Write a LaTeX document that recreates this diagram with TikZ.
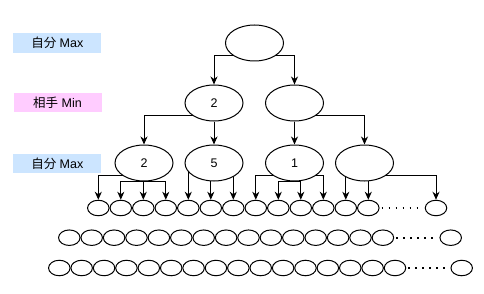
\documentclass[tikz,border=0pt]{standalone}
\usepackage{fontspec}
\setmainfont{Liberation Sans}
\newfontfamily\cjk{Noto Sans CJK JP}
\usetikzlibrary{arrows.meta,backgrounds,shapes.geometric}
\definecolor{lblblue}{HTML}{CCE5FF}
\definecolor{lblpink}{HTML}{FFCCFF}
\tikzset{
  big/.style={ellipse,draw,line width=1pt,fill=white,minimum width=58pt,minimum height=36pt,inner sep=0pt,font=\fontsize{12.5}{14}\selectfont},
  small/.style={ellipse,draw,line width=1pt,fill=white,minimum width=21.5pt,minimum height=15.5pt,inner sep=0pt},
  lbl/.style={rectangle,minimum width=88pt,minimum height=19.5pt,inner sep=0pt,font=\fontsize{12.5}{14}\selectfont},
  conn/.style={line width=1pt,-{Stealth[length=8pt,width=7pt,inset=2.5pt]}},
  dotline/.style={line width=1.8pt,dash pattern=on 1.8pt off 5.2pt}
}
\begin{document}
\begin{tikzpicture}[x=1pt,y=-1pt]
\useasboundingbox (0,0) rectangle (484,294);
% labels
\node[lbl,fill=lblblue] (lab1) at (57.3,43) {{\cjk 自分} Max};
\node[lbl,fill=lblpink] (lab2) at (57.5,102.7) {{\cjk 相手} Min};
\node[lbl,fill=lblblue] (lab3) at (57.3,163.3) {{\cjk 自分} Max};
% tree
\node[big] (root) at (254.5,43) {};
\node[big] (a) at (214,103) {2};
\node[big] (b) at (294.5,103) {};
\node[big] (n1) at (144,163) {2};
\node[big] (n2) at (214,163) {5};
\node[big] (n3) at (294.5,163) {1};
\node[big] (n4) at (364.5,163) {};
% rows of small ellipses
\foreach \k in {0,...,12} \node[small] (r1-\k) at ({98.3+22.5*\k},208) {};
\node[small] (r1-L) at (436,208) {};
\foreach \k in {0,...,14} \node[small] (r2-\k) at ({69.3+22.4*\k},237.7) {};
\node[small] (r2-L) at (450.7,237.7) {};
\foreach \k in {0,...,15} \node[small] (r3-\k) at ({59.3+22.38*\k},268) {};
\node[small] (r3-L) at (461.7,268) {};
% dotted continuations
\draw[dotline] ([xshift=2pt]r1-12.east) -- ([xshift=-3pt]r1-L.west);
\draw[dotline] ([xshift=2pt]r2-14.east) -- ([xshift=-3pt]r2-L.west);
\draw[dotline] ([xshift=2pt]r3-15.east) -- ([xshift=-3pt]r3-L.west);
% connectors
\begin{scope}[on background layer]
\draw[conn] ([yshift=-13pt]root.center) -| (a.north);
\draw[conn] ([yshift=-13pt]root.center) -| (b.north);
\draw[conn] ([yshift=-13pt]a.center) -| (n1.north);
\draw[conn] (a.south) -- (n2.north);
\draw[conn] (b.south) -- (n3.north);
\draw[conn] ([yshift=-13pt]b.center) -| (n4.north);
% n1
\draw[conn] ([yshift=-12.7pt]n1.center) -| (r1-0.north);
\draw[conn] (n1.south) -| (r1-1.north);
\draw[conn] (r1-2.north |- n1.south) -- (r1-2.north);
\draw[conn] (n1.south) -| (r1-3.north);
% n2
\draw[conn] (r1-4.north |- n2.center) -- (r1-4.north);
\draw[conn] (r1-5.north |- n2.center) -- (r1-5.north);
\draw[conn] (r1-6.north |- n2.center) -- (r1-6.north);
% n3
\draw[conn] ([yshift=-12.7pt]n3.center) -| (r1-7.north);
\draw[conn] (n3.south) -| (r1-8.north);
\draw[conn] (n3.south) -| (r1-9.north);
\draw[conn] ([yshift=-12.7pt]n3.center) -| (r1-10.north);
% n4
\draw[conn] (r1-11.north |- n4.center) -- (r1-11.north);
\draw[conn] (r1-12.north |- n4.center) -- (r1-12.north);
\draw[conn] ([yshift=-12.7pt]n4.center) -| (r1-L.north);
\end{scope}
\end{tikzpicture}
\end{document}
